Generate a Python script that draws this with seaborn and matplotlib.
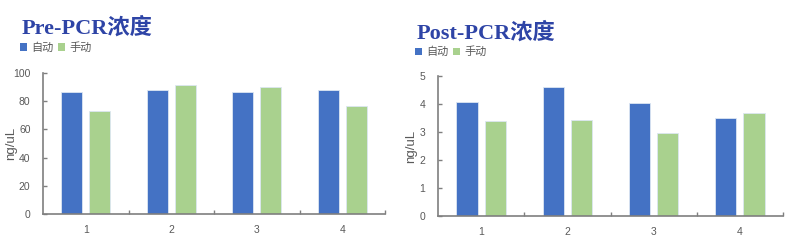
import matplotlib
matplotlib.use("Agg")
import matplotlib.pyplot as plt
import seaborn as sns
import pandas as pd
from matplotlib.patches import Patch

sns.set_theme(style="white")
plt.rcParams['font.family'] = ['Liberation Sans', 'Noto Sans CJK SC', 'DejaVu Sans']

samples = ["1", "2", "3", "4"]
series_names = ["自动", "手动"]
pre_auto = [86.5, 88.3, 86.4, 87.8]
pre_manual = [72.9, 91.4, 90.5, 76.7]
post_auto = [4.08, 4.61, 4.04, 3.52]
post_manual = [3.40, 3.43, 2.97, 3.68]
titles = ["Pre-PCR浓度", "Post-PCR浓度"]
pre_ticks = [0, 20, 40, 60, 80, 100]
post_ticks = [0, 1, 2, 3, 4, 5]

colors = ["#4472C4", "#A9D18E"]
axis_gray = "#7F7F7F"
text_gray = "#595959"
title_color = "#2E44A6"


def make_df(auto, manual):
    rows = []
    for s, a, m in zip(samples, auto, manual):
        rows.append({"sample": s, "type": series_names[0], "val": a})
        rows.append({"sample": s, "type": series_names[1], "val": m})
    return pd.DataFrame(rows)


fig = plt.figure(figsize=(8, 2.47), dpi=100)
ax1 = fig.add_axes([43 / 800, (247 - 213.7) / 247, (385 - 43) / 800, (213.7 - 73.3) / 247])
ax2 = fig.add_axes([438 / 800, (247 - 216.3) / 247, (783 - 438) / 800, (216.3 - 76.3) / 247])

configs = [
    (ax1, make_df(pre_auto, pre_manual), pre_ticks, titles[0], (22 / 800, 1 - 33.5 / 247), (20 / 800, 1 - 42 / 247), -0.075),
    (ax2, make_df(post_auto, post_manual), post_ticks, titles[1], (417 / 800, 1 - 39 / 247), (415 / 800, 1 - 46.5 / 247), -0.061),
]

for ax, df, ticks, title, tpos, lpos, ylx in configs:
    sns.barplot(data=df, x="sample", y="val", hue="type", palette=colors, saturation=1,
                width=0.655, gap=0.25, ax=ax, errorbar=None,
                edgecolor="#DCE6F2", linewidth=0.6, legend=False)
    ax.set_ylim(ticks[0], ticks[-1])
    ax.set_yticks(ticks)
    ax.set_xlim(-0.5, 3.5)
    ax.set_xticks(range(4))
    ax.set_xticklabels(samples)
    ax.set_xticks([0.5, 1.5, 2.5, 3.5], minor=True)
    ax.tick_params(axis="x", which="major", length=0, pad=8, labelsize=7.5, labelcolor=text_gray)
    ax.tick_params(axis="x", which="minor", direction="in", length=3, width=1, color=axis_gray, bottom=True)
    ax.tick_params(axis="y", direction="in", length=3, width=1, color=axis_gray, left=True,
                   labelsize=7.5, labelcolor=text_gray, pad=9)
    for sp in ["top", "right"]:
        ax.spines[sp].set_visible(False)
    for sp in ["left", "bottom"]:
        ax.spines[sp].set_color(axis_gray)
        ax.spines[sp].set_linewidth(1.2)
    ax.set_xlabel("")
    ax.set_ylabel("ng/uL", fontsize=9.5, color=text_gray)
    ax.yaxis.set_label_coords(ylx, 0.5)
    ax.set_facecolor("white")
    fig.text(tpos[0], tpos[1], title, fontsize=16, fontweight="bold", color=title_color,
             family=["Liberation Serif", "Noto Sans CJK SC"], ha="left", va="baseline")
    handles = [Patch(facecolor=c, edgecolor="none") for c in colors]
    fig.legend(handles, series_names, loc="upper left", bbox_to_anchor=lpos, ncol=2, frameon=False,
               fontsize=8, labelcolor=text_gray, handlelength=0.65, handleheight=0.65,
               handletextpad=0.35, columnspacing=0.4, borderaxespad=0, borderpad=0)

fig.savefig("out.png", dpi=100, facecolor="white")
